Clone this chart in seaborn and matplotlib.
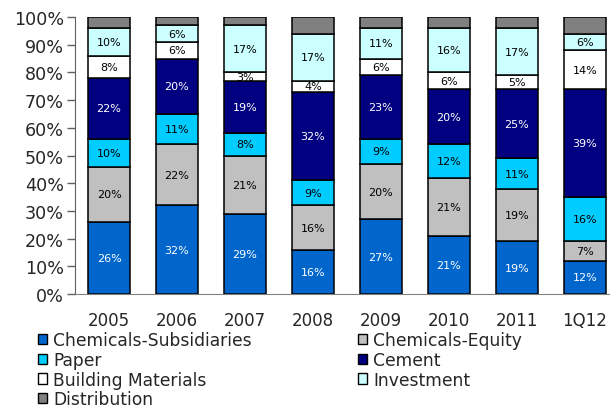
import matplotlib
matplotlib.use("Agg")
import matplotlib.pyplot as plt
from matplotlib.patches import Patch
import seaborn as sns
import numpy as np

categories = ["2005", "2006", "2007", "2008", "2009", "2010", "2011", "1Q12"]
chem_sub = [26, 32, 29, 16, 27, 21, 19, 12]
chem_eq = [20, 22, 21, 16, 20, 21, 19, 7]
paper = [10, 11, 8, 9, 9, 12, 11, 16]
cement = [22, 20, 19, 32, 23, 20, 25, 39]
building = [8, 6, 3, 4, 6, 6, 5, 14]
investment = [10, 6, 17, 17, 11, 16, 17, 6]
distribution = [4, 3, 3, 6, 4, 4, 4, 6]

series_names = ["Chemicals-Subsidiaries", "Chemicals-Equity", "Paper", "Cement",
                "Building Materials", "Investment", "Distribution"]
series_vals = [chem_sub, chem_eq, paper, cement, building, investment, distribution]
colors = ["#0066CC", "#C0C0C0", "#00CCFF", "#000080", "#FFFFFF", "#CCFFFF", "#808080"]
label_colors = ["white", "black", "black", "white", "black", "black", None]

sns.set_style("white")
plt.rcParams['font.family'] = ['DejaVu Sans']

fig = plt.figure(figsize=(6.1, 4.1), dpi=100)
ax = fig.add_axes([0.123, 0.2805, 0.877, 0.6755])

bottom = np.zeros(len(categories))
for name, vals, col, lc in zip(series_names, series_vals, colors, label_colors):
    v = np.array(vals, dtype=float)
    sns.barplot(x=categories, y=v, bottom=bottom, color=col, edgecolor="black",
                linewidth=1.1, width=0.62, ax=ax, saturation=1)
    cont = ax.containers[-1]
    if lc is not None:
        ax.bar_label(cont, labels=[f"{int(x)}%" for x in v], label_type="center",
                     color=lc, fontsize=8)
    bottom += v

ax.set_ylim(0, 100)
ax.set_xlim(-0.5, 7.37)
ax.set_yticks(np.arange(0, 101, 10))
ax.set_yticklabels([f"{t}%" for t in range(0, 101, 10)], fontsize=12.6)
ax.tick_params(axis="y", length=6, width=1, color="#606060", direction="out", left=True, pad=2)
ax.tick_params(axis="x", length=0, labelsize=12, pad=12)
for s in ["top", "right"]:
    ax.spines[s].set_visible(False)
ax.spines["left"].set_color("#606060")
ax.spines["bottom"].set_color("#808080")
ax.set_xlabel("")
ax.set_ylabel("")

order = [0, 2, 4, 6, 1, 3, 5]
handles = [Patch(facecolor=colors[i], edgecolor="black", linewidth=1) for i in order]
labels = [series_names[i] for i in order]
fig.legend(handles, labels, ncol=2, loc="upper left", bbox_to_anchor=(0.062, 0.19),
           frameon=False, fontsize=12.3, handlelength=0.55, handleheight=0.55,
           handletextpad=0.35, labelspacing=0.1, columnspacing=6.2, borderaxespad=0,
           borderpad=0)

fig.savefig("out.png", dpi=100)
